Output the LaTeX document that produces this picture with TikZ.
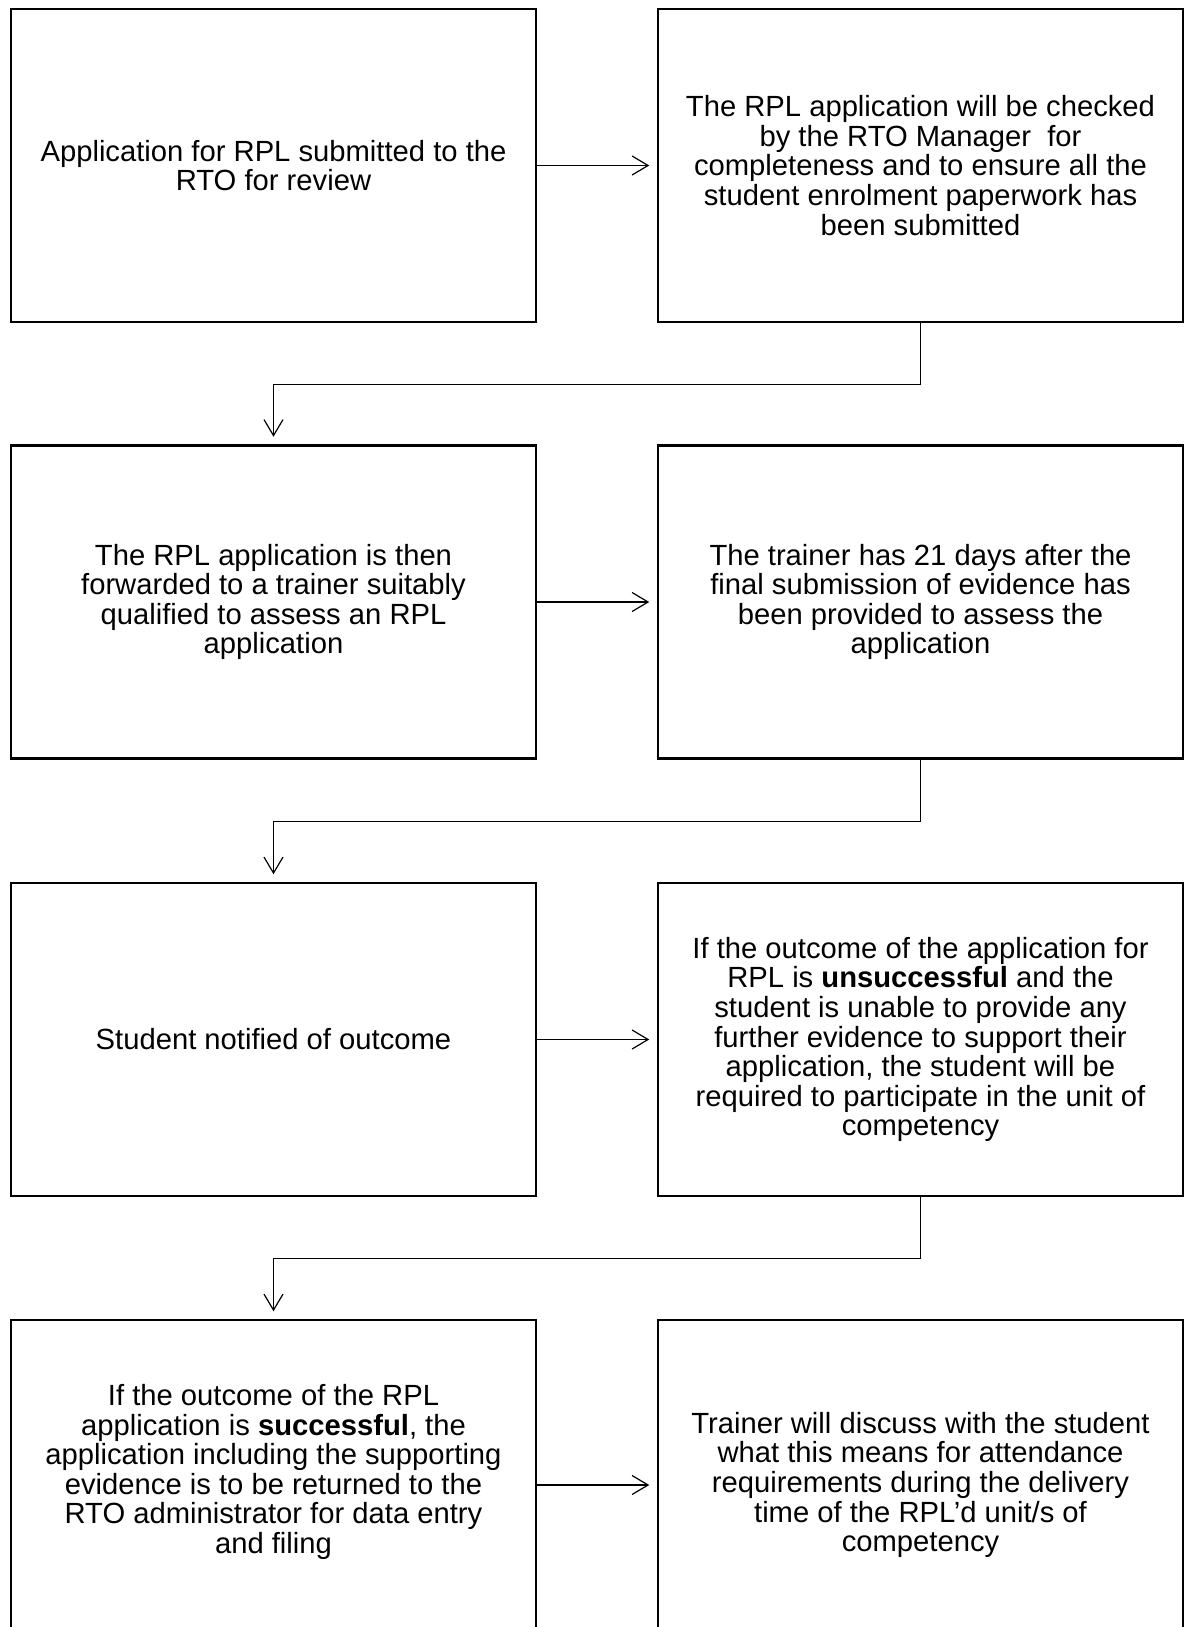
\documentclass[tikz,border=0pt]{standalone}
\usepackage{fontspec}
\setmainfont{Liberation Sans}
\usetikzlibrary{arrows.meta}

\begin{document}
\begin{tikzpicture}[
    x=1pt, y=-1pt,
    every node/.style={font=\fontsize{29.2}{29.6}\selectfont},
    stepbox/.style={draw=black, line width=2.5pt, minimum width=525pt, minimum height=313pt, align=center, inner sep=0pt},
    lastbox/.style={stepbox, minimum height=330pt},
    flowarrow/.style={-{Straight Barb[length=16pt, width=19pt]}, line width=1.2pt, shorten >=7.5pt},
]
\useasboundingbox (0,0) rectangle (1185,1627);

% Row 1
\node[stepbox] (S1) at (273.5, 165.5) {Application for RPL submitted to the\\RTO for review};
\node[stepbox] (S2) at (920.5, 165.5) {The RPL application will be checked\\by the RTO Manager\ \ for\\completeness and to ensure all the\\student enrolment paperwork has\\been submitted};
\draw[flowarrow] (S1) -- (S2);

% Row 2
\node[stepbox] (S3) at (273.5, 602) {The RPL application is then\\forwarded to a trainer suitably\\qualified to assess an RPL\\application};
\node[stepbox] (S4) at (920.5, 602) {The trainer has 21 days after the\\final submission of evidence has\\been provided to assess the\\application};
\draw[flowarrow] (S3) -- (S4);

% Row 3
\node[stepbox] (S5) at (273.5, 1039.5) {Student notified of outcome};
\node[stepbox] (S6) at (920.5, 1039.5) {If the outcome of the application for\\RPL is \textbf{unsuccessful} and the\\student is unable to provide any\\further evidence to support their\\application, the student will be\\required to participate in the unit of\\competency};
\draw[flowarrow] (S5) -- (S6);

% Row 4 (runs off the page)
\node[lastbox, text depth=32pt] (S7) at (273.5, 1485) {If the outcome of the RPL\\application is \textbf{successful}, the\\application including the supporting\\evidence is to be returned to the\\RTO administrator for data entry\\and filing};
\node[lastbox] (S8) at (920.5, 1485) {Trainer will discuss with the student\\what this means for attendance\\requirements during the delivery\\time of the RPL’d unit/s of\\competency};
\draw[flowarrow] (S7) -- (S8);

% Row to row links
\draw[flowarrow] (S2.south) -- ++(0,61.5) -| (S3.north);
\draw[flowarrow] (S4.south) -- ++(0,61.5) -| (S5.north);
\draw[flowarrow] (S6.south) -- ++(0,61.5) -| (S7.north);
\end{tikzpicture}
\end{document}
